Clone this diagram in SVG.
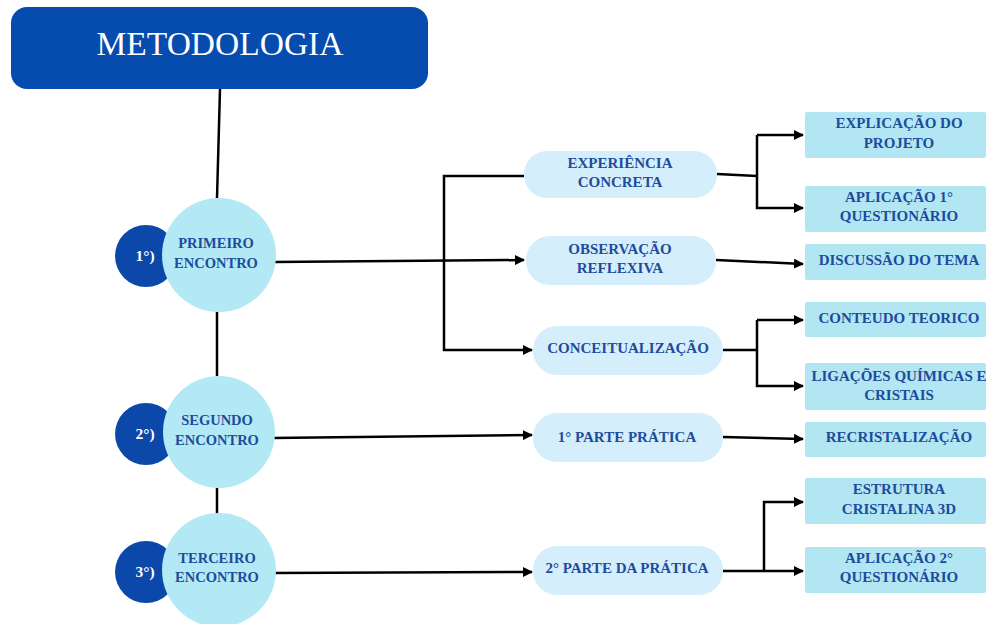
<svg xmlns="http://www.w3.org/2000/svg" width="986" height="624" viewBox="0 0 986 624">
<defs>
<marker id="ah" viewBox="0 0 10 10" refX="9" refY="5" markerWidth="4" markerHeight="4" orient="auto" markerUnits="strokeWidth">
<path d="M0,0 L10,5 L0,10 Z" fill="#000"/>
</marker>
<style>
.t{font-family:"Liberation Serif","Times New Roman",serif;font-weight:bold;font-size:15px;fill:#1D4C9C;text-anchor:middle}
.c{font-size:14.5px}
.w{font-family:"Liberation Serif","Times New Roman",serif;font-weight:bold;font-size:15.5px;fill:#fff;text-anchor:middle}
.dk{fill:#0B48AA}
.lc{fill:#B3E9F4}
.pill{fill:#D5EEFC}
.box{fill:#B2E6F2}
.ln{stroke:#000;stroke-width:2.5;fill:none}
.ar{stroke:#000;stroke-width:2.5;fill:none;marker-end:url(#ah)}
</style>
</defs>
<rect width="986" height="624" fill="#fff"/>
<g id="connectors">
<path class="ln" d="M220,89 L217,198"/>
<path class="ln" d="M217,312 L217,376"/>
<path class="ln" d="M217,488 L217,514"/>
<path class="ar" d="M274,262 L524,260"/>
<path class="ar" d="M524,176 L444,176 L444,350 L532,350"/>
<path class="ln" d="M717,174 L757,176"/>
<path class="ar" d="M757,135 L757,208 L803,208"/>
<path class="ar" d="M757,135 L803,135"/>
<path class="ar" d="M716,260 L803,264"/>
<path class="ln" d="M723,350 L757,350"/>
<path class="ar" d="M757,320 L757,386 L803,386"/>
<path class="ar" d="M757,320 L803,320"/>
<path class="ar" d="M272,438 L532,435"/>
<path class="ar" d="M723,437 L803,439"/>
<path class="ar" d="M272,573 L532,572"/>
<path class="ar" d="M723,571 L803,571"/>
<path class="ar" d="M764,571 L764,502 L803,502"/>
</g>
<g id="metodologia">
<rect x="11" y="7" width="417" height="82" rx="16" fill="#064BAE"/>
<text x="220" y="55" font-family="Liberation Serif,'Times New Roman',serif" font-size="33.5" fill="#fff" text-anchor="middle">METODOLOGIA</text>
</g>
<g id="n1">
<circle class="dk" cx="146" cy="256" r="31"/>
<circle class="lc" cx="219" cy="255" r="57"/>
<text class="w" x="145" y="261">1°)</text>
<text class="t c" x="216" y="248">PRIMEIRO</text>
<text class="t c" x="216" y="268">ENCONTRO</text>
</g>
<g id="n2">
<circle class="dk" cx="146" cy="434" r="31"/>
<circle class="lc" cx="219" cy="432" r="56"/>
<text class="w" x="145" y="439">2°)</text>
<text class="t c" x="217" y="425">SEGUNDO</text>
<text class="t c" x="217" y="445">ENCONTRO</text>
</g>
<g id="n3">
<circle class="dk" cx="146" cy="572" r="31"/>
<circle class="lc" cx="219" cy="570" r="57"/>
<text class="w" x="145" y="577">3°)</text>
<text class="t c" x="217" y="563">TERCEIRO</text>
<text class="t c" x="217" y="582">ENCONTRO</text>
</g>
<g id="experiencia">
<rect class="pill" x="524" y="151" width="193" height="47" rx="23"/>
<text class="t" x="620" y="168">EXPERIÊNCIA</text>
<text class="t" x="620" y="187">CONCRETA</text>
</g>
<g id="observacao">
<rect class="pill" x="526" y="236" width="190" height="49" rx="24"/>
<text class="t" x="620" y="254">OBSERVAÇÃO</text>
<text class="t" x="620" y="273">REFLEXIVA</text>
</g>
<g id="conceitualizacao">
<rect class="pill" x="533" y="326" width="190" height="49" rx="24"/>
<text class="t" x="628" y="353">CONCEITUALIZAÇÃO</text>
</g>
<g id="parte1">
<rect class="pill" x="533" y="413" width="190" height="49" rx="24"/>
<text class="t" x="627" y="442">1° PARTE PRÁTICA</text>
</g>
<g id="parte2">
<rect class="pill" x="533" y="546" width="190" height="49" rx="24"/>
<text class="t" x="627" y="573">2° PARTE DA PRÁTICA</text>
</g>
<g id="explicacao">
<rect class="box" x="805" y="112" width="181" height="46" rx="2"/>
<text class="t" x="899" y="128">EXPLICAÇÃO DO</text>
<text class="t" x="899" y="148">PROJETO</text>
</g>
<g id="aplicacao1">
<rect class="box" x="805" y="186" width="181" height="46" rx="2"/>
<text class="t" x="899" y="202">APLICAÇÃO 1°</text>
<text class="t" x="899" y="221">QUESTIONÁRIO</text>
</g>
<g id="discussao">
<rect class="box" x="805" y="244" width="181" height="36" rx="2"/>
<text class="t" x="899" y="265">DISCUSSÃO DO TEMA</text>
</g>
<g id="conteudo">
<rect class="box" x="805" y="302" width="181" height="35" rx="2"/>
<text class="t" x="899" y="323">CONTEUDO TEORICO</text>
</g>
<g id="ligacoes">
<rect class="box" x="805" y="363" width="181" height="47" rx="2"/>
<text class="t" x="899" y="381">LIGAÇÕES QUÍMICAS E</text>
<text class="t" x="899" y="400">CRISTAIS</text>
</g>
<g id="recristalizacao">
<rect class="box" x="805" y="422" width="181" height="35" rx="2"/>
<text class="t" x="899" y="442">RECRISTALIZAÇÃO</text>
</g>
<g id="estrutura">
<rect class="box" x="805" y="478" width="181" height="46" rx="2"/>
<text class="t" x="899" y="494">ESTRUTURA</text>
<text class="t" x="899" y="514">CRISTALINA 3D</text>
</g>
<g id="aplicacao2">
<rect class="box" x="805" y="547" width="181" height="46" rx="2"/>
<text class="t" x="899" y="563">APLICAÇÃO 2°</text>
<text class="t" x="899" y="582">QUESTIONÁRIO</text>
</g>
</svg>
